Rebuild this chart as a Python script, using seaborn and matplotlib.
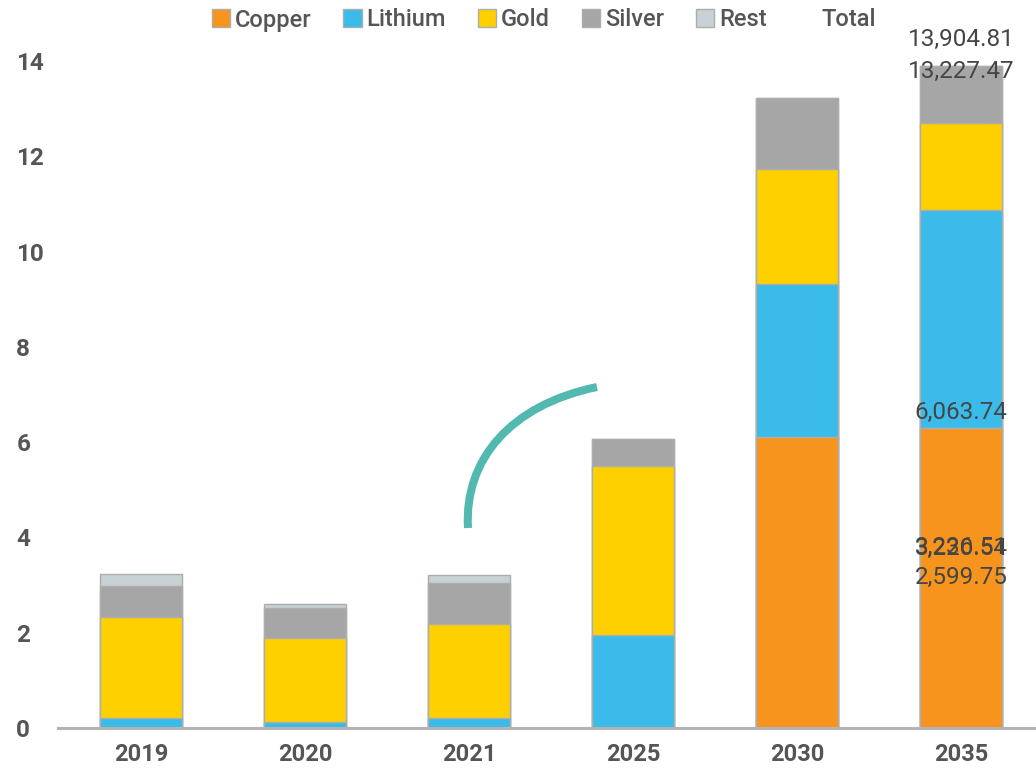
import matplotlib
matplotlib.use("Agg")
import matplotlib.pyplot as plt
import seaborn as sns
import pandas as pd
import numpy as np
from matplotlib.patches import Patch, PathPatch
from matplotlib.path import Path

years = ["2019", "2020", "2021", "2025", "2030", "2035"]
copper = [0.0, 0.0, 0.0, 0.0, 6.11, 6.30]
lithium = [0.20, 0.13, 0.21, 1.95, 3.21, 4.57]
gold = [2.14, 1.76, 1.97, 3.55, 2.41, 1.83]
silver = [0.64, 0.63, 0.86, 0.56, 1.49, 1.20]
rest = [0.26, 0.08, 0.18, 0.0, 0.0, 0.0]
totals = [3236.51, 2599.75, 3220.54, 6063.74, 13227.47, 13904.81]

series_names = ["Copper", "Lithium", "Gold", "Silver", "Rest"]
colors = ["#F7941D", "#3BBBEA", "#FFD000", "#A6A6A6", "#C8D1D6"]

sns.set_theme(style="white")
plt.rcParams["font.family"] = ["Roboto", "DejaVu Sans"]

fig = plt.figure(figsize=(10.36, 7.68), dpi=100)
ax = fig.add_axes([58 / 1036, 40 / 768, 1 - 58 / 1036, (728 - 13.4) / 768])

layers = [copper, lithium, gold, silver, rest]
cum = np.cumsum(np.array(layers), axis=0)
for i in range(len(layers) - 1, -1, -1):
    df = pd.DataFrame({"year": years, "value": cum[i]})
    sns.barplot(data=df, x="year", y="value", color=colors[i], width=0.5,
                edgecolor="#ADADAD", linewidth=1.0, saturation=1, ax=ax)

ax.set_xlim(-0.506, 5.457)
ax.set_ylim(0, 15)
ax.set_yticks(range(0, 15, 2))
ax.set_xlabel("")
ax.set_ylabel("")
for s in ["left", "right", "top"]:
    ax.spines[s].set_visible(False)
ax.spines["bottom"].set_color("#B3B3B3")
ax.spines["bottom"].set_linewidth(2.2)
ax.tick_params(axis="y", length=0, pad=30, labelsize=17.5, labelcolor="#555555")
ax.tick_params(axis="x", length=0, pad=11, labelsize=17, labelcolor="#555555")
for lab in ax.get_yticklabels():
    lab.set_horizontalalignment("left")
    lab.set_fontweight("bold")
for lab in ax.get_xticklabels():
    lab.set_fontweight("bold")

# Total labels (all rendered at the last category)
for t in totals:
    ax.annotate(f"{t:,.2f}", xy=(len(years) - 1, t / 1000), xytext=(0, 19),
                textcoords="offset points", ha="center", va="center",
                fontsize=17.5, color="#454545")

handles = [Patch(facecolor=c, edgecolor="#ADADAD", linewidth=1.0) for c in colors]
handles.append(Patch(facecolor="none", edgecolor="none"))
labels = series_names + ["Total"]
leg = fig.legend(handles, labels, loc="center", bbox_to_anchor=(544 / 1036, 1 - 20 / 768),
                 ncol=6, frameon=False, fontsize=17, handlelength=0.78, handleheight=0.78,
                 handletextpad=0.2, columnspacing=1.35, borderaxespad=0)
for txt in leg.get_texts():
    txt.set_color("#555555")
    txt.set_fontweight("medium")

# decorative teal arc
pts = [(468, 528), (464, 460), (510, 405), (597, 387)]
verts = [(x / 1036, 1 - y / 768) for x, y in pts]
path = Path(verts, [Path.MOVETO, Path.CURVE4, Path.CURVE4, Path.CURVE4])
fig.add_artist(PathPatch(path, transform=fig.transFigure, facecolor="none",
                         edgecolor="#52B9B0", linewidth=5.8, capstyle="butt"))

fig.savefig("out.png", dpi=100)
